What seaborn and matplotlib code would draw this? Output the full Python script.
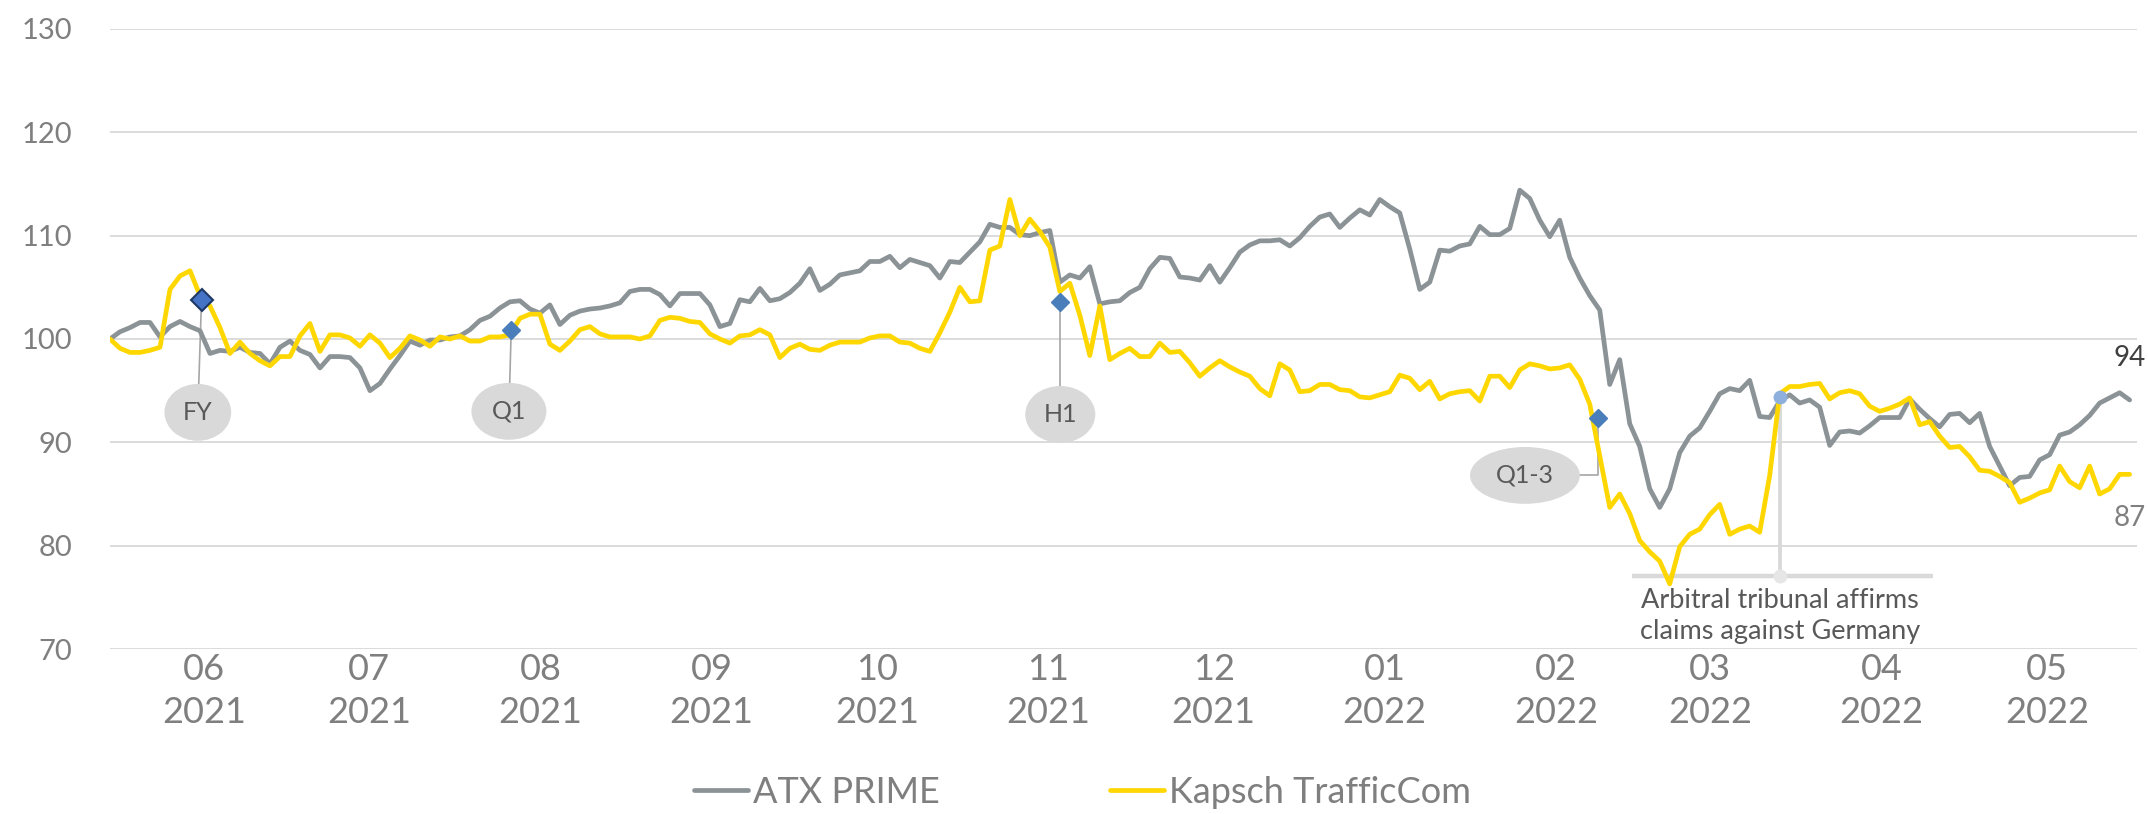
import pandas as pd
import matplotlib
matplotlib.use('Agg')
import matplotlib.pyplot as plt
import matplotlib.dates as mdates
from matplotlib.patches import Ellipse
from matplotlib.lines import Line2D
import seaborn as sns

# index values, one point every ~1.8 days
atx_prime = [
    100.0, 100.7, 101.1, 101.6, 101.6, 100.2, 101.2, 101.7, 101.2, 100.8,
    98.6, 98.9, 98.8, 99.2, 98.7, 98.6, 97.6, 99.2, 99.8, 98.9,
    98.5, 97.2, 98.3, 98.3, 98.2, 97.2, 95.0, 95.7, 97.1, 98.4,
    99.8, 99.4, 99.9, 99.9, 100.2, 100.3, 100.9, 101.8, 102.2, 103.0,
    103.6, 103.7, 102.9, 102.5, 103.3, 101.4, 102.3, 102.7, 102.9, 103.0,
    103.2, 103.5, 104.6, 104.8, 104.8, 104.3, 103.2, 104.4, 104.4, 104.4,
    103.3, 101.2, 101.5, 103.8, 103.6, 104.9, 103.7, 103.9, 104.5, 105.4,
    106.8, 104.7, 105.3, 106.2, 106.4, 106.6, 107.5, 107.5, 108.0, 106.9,
    107.7, 107.4, 107.1, 105.9, 107.5, 107.4, 108.4, 109.4, 111.1, 110.8,
    110.8, 110.1, 110.0, 110.3, 110.5, 105.5, 106.2, 105.9, 107.0, 103.4,
    103.6, 103.7, 104.5, 105.0, 106.8, 107.9, 107.8, 106.0, 105.9, 105.7,
    107.1, 105.5, 106.9, 108.4, 109.1, 109.5, 109.5, 109.6, 109.0, 109.8,
    110.9, 111.8, 112.1, 110.8, 111.7, 112.5, 112.0, 113.5, 112.8, 112.2,
    108.7, 104.8, 105.5, 108.6, 108.5, 109.0, 109.2, 110.9, 110.1, 110.1,
    110.7, 114.4, 113.6, 111.5, 109.9, 111.5, 107.9, 105.9, 104.2, 102.8,
    95.6, 98.0, 91.8, 89.6, 85.5, 83.7, 85.5, 89.0, 90.6, 91.4,
    93.0, 94.7, 95.2, 95.0, 96.0, 92.5, 92.4, 94.0, 94.6, 93.8,
    94.1, 93.4, 89.7, 91.0, 91.1, 90.9, 91.6, 92.4, 92.4, 92.4,
    94.2, 93.2, 92.3, 91.5, 92.7, 92.8, 91.9, 92.8, 89.6, 87.7,
    85.8, 86.6, 86.7, 88.3, 88.8, 90.7, 91.0, 91.7, 92.6, 93.8,
    94.3, 94.8, 94.1,
]

kapsch = [
    100.0, 99.1, 98.7, 98.7, 98.9, 99.2, 104.8, 106.1, 106.6, 104.2,
    103.2, 101.1, 98.6, 99.7, 98.6, 97.9, 97.4, 98.3, 98.3, 100.3,
    101.5, 98.8, 100.4, 100.4, 100.1, 99.3, 100.4, 99.6, 98.2, 99.1,
    100.3, 99.9, 99.3, 100.2, 100.0, 100.3, 99.8, 99.8, 100.2, 100.2,
    100.4, 102.0, 102.4, 102.4, 99.5, 98.9, 99.8, 100.9, 101.2, 100.5,
    100.2, 100.2, 100.2, 100.0, 100.3, 101.8, 102.1, 102.0, 101.7, 101.6,
    100.5, 100.0, 99.6, 100.3, 100.4, 100.9, 100.4, 98.2, 99.1, 99.5,
    99.0, 98.9, 99.4, 99.7, 99.7, 99.7, 100.1, 100.3, 100.3, 99.7,
    99.6, 99.1, 98.8, 100.6, 102.6, 105.0, 103.6, 103.7, 108.6, 109.0,
    113.5, 110.0, 111.6, 110.4, 108.9, 104.6, 105.4, 102.3, 98.4, 103.2,
    98.0, 98.6, 99.1, 98.3, 98.3, 99.6, 98.7, 98.8, 97.7, 96.4,
    97.2, 97.9, 97.3, 96.8, 96.4, 95.2, 94.5, 97.6, 97.0, 94.9,
    95.0, 95.6, 95.6, 95.1, 95.0, 94.4, 94.3, 94.6, 94.9, 96.5,
    96.2, 95.1, 95.9, 94.2, 94.7, 94.9, 95.0, 94.0, 96.4, 96.4,
    95.3, 97.0, 97.6, 97.4, 97.1, 97.2, 97.5, 96.1, 93.7, 88.7,
    83.7, 85.0, 83.1, 80.5, 79.4, 78.5, 76.3, 79.9, 81.1, 81.6,
    83.0, 84.0, 81.1, 81.6, 81.9, 81.3, 86.8, 94.7, 95.4, 95.4,
    95.6, 95.7, 94.2, 94.8, 95.0, 94.7, 93.5, 93.0, 93.3, 93.7,
    94.3, 91.7, 92.0, 90.6, 89.5, 89.6, 88.6, 87.3, 87.2, 86.7,
    86.1, 84.2, 84.6, 85.1, 85.4, 87.7, 86.2, 85.6, 87.7, 85.0,
    85.5, 86.9, 86.9,
]

start_date = '2021-05-29'
end_date = '2022-05-30'

# reporting events (marker on the Kapsch line + grey bubble label)
events = ['FY', 'Q1', 'H1', 'Q1-3']
event_dates = ['2021-06-14 14:00', '2021-08-09 17:00', '2021-11-17 05:00', '2022-02-22 14:00']
event_values = [103.8, 100.9, 103.6, 92.4]
bubble_dates = ['2021-06-13 22:00', '2021-08-09 07:00', '2021-11-17 05:00', '2022-02-09 10:00']
bubble_values = [92.9, 93.0, 92.7, 86.8]
bubble_widths = [12.1, 13.6, 12.7, 19.9]

arbitral_date = '2022-03-27 14:00'
arbitral_value = 94.4
arbitral_text = 'Arbitral tribunal affirms\nclaims against Germany'
bar_from, bar_to, bar_level = '2022-02-28 19:00', '2022-04-24 10:00', 77.1

end_labels = ['94', '87']
end_label_values = [98.2, 82.7]

grey = '#8b9397'
yellow = '#ffd700'
txt = '#7f7f7f'

sns.set_theme(style='white')
plt.rcParams['font.family'] = ['Lato', 'DejaVu Sans']

dates = pd.date_range(start_date, end_date, periods=len(atx_prime))
df = pd.DataFrame({'Datum': dates, 'ATX PRIME': atx_prime, 'Kapsch TrafficCom': kapsch})
df_long = df.melt(id_vars='Datum', var_name='Serie', value_name='Wert')

fig = plt.figure(figsize=(21.48, 8.14), dpi=100)
ax = fig.add_axes([110 / 2148, 1 - 649 / 814, 2027 / 2148, 620 / 814])

sns.lineplot(data=df_long, x='Datum', y='Wert', hue='Serie',
             palette={'ATX PRIME': grey, 'Kapsch TrafficCom': yellow},
             lw=3.4, ax=ax, legend=False, zorder=3)

ax.set_ylim(70, 130)
ax.set_yticks(range(70, 131, 10))
ax.set_xlim(pd.Timestamp(start_date), pd.Timestamp('2022-05-31 08:00'))
ax.xaxis.set_major_locator(mdates.MonthLocator(bymonthday=15))
ax.xaxis.set_major_formatter(mdates.DateFormatter('%m\n%Y'))
ax.set_xlabel('')
ax.set_ylabel('')
ax.grid(axis='y', color='#d9d9d9', lw=1.3)
ax.grid(axis='x', visible=False)
for s in ax.spines.values():
    s.set_visible(False)
ax.tick_params(axis='y', length=0, pad=27, labelsize=21, labelcolor=txt)
ax.tick_params(axis='x', length=0, pad=3, labelsize=26, labelcolor=txt)
for lab in ax.get_xticklabels():
    lab.set_linespacing(1.35)

# event bubbles
for name, d, v, bd, bv, bw in zip(events, event_dates, event_values,
                                  bubble_dates, bubble_values, bubble_widths):
    d = pd.Timestamp(d)
    bd = pd.Timestamp(bd)
    if name == 'Q1-3':
        ax.plot([d, d, bd], [v, bv, bv], color='#a6a6a6', lw=1.2, zorder=2)
    else:
        ax.plot([bd, d], [bv, v], color='#a6a6a6', lw=1.2, zorder=2)
    ax.add_patch(Ellipse((mdates.date2num(bd), bv), bw, 5.5,
                         facecolor='#d9d9d9', edgecolor='none', zorder=4))
    ax.text(bd, bv, name, ha='center', va='center', fontsize=18,
            color='#595959', zorder=5)
    if name == 'FY':
        ax.plot(d, v, marker='D', ms=11, color='#4472c4', mec='#1f3864',
                mew=1.5, zorder=6)
    else:
        ax.plot(d, v, marker='D', ms=9, color='#4a7ebb', mec='#4a7ebb', zorder=6)

# arbitral tribunal annotation
ad = pd.Timestamp(arbitral_date)
ax.plot([pd.Timestamp(bar_from), pd.Timestamp(bar_to)], [bar_level, bar_level],
        color='#d9d9d9', lw=3.2, solid_capstyle='butt', zorder=2)
ax.plot([ad, ad], [arbitral_value, bar_level], color='#d9d9d9', lw=2.8, zorder=2)
ax.plot(ad, bar_level, marker='o', ms=10, color='#e6e6e6', mec='none', zorder=2)
ax.plot(ad, arbitral_value, marker='o', ms=10, color='#8fb0dc', mec='none', zorder=6)
ax.text(ad, 75.9, arbitral_text, ha='center', va='top', fontsize=19.5,
        color='#595959', linespacing=1.3)

# last values
last = pd.Timestamp(end_date) + pd.Timedelta(days=3)
ax.text(last, end_label_values[0], end_labels[0], ha='right', va='center',
        fontsize=20, color='#404040')
ax.text(last, end_label_values[1], end_labels[1], ha='right', va='center',
        fontsize=20, color='#808080')

handles = [Line2D([], [], color=grey, lw=3.4), Line2D([], [], color=yellow, lw=3.4)]
fig.legend(handles, ['ATX PRIME', 'Kapsch TrafficCom'], loc='center',
           bbox_to_anchor=(0.504, 0.027), ncol=2, frameon=False, fontsize=26,
           handlelength=1.5, handletextpad=0.15, columnspacing=4.7,
           labelcolor=txt)

fig.savefig('out.png', dpi=100)
